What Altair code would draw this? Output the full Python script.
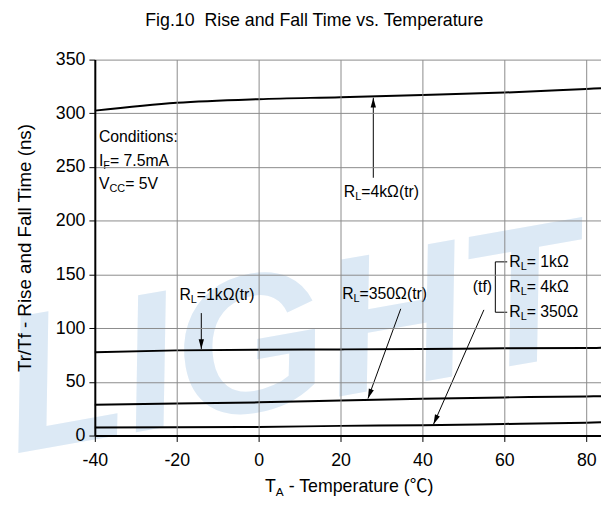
import math
import altair as alt
import pandas as pd

# ---------------- data ----------------
temps = [-40, -20, 0, 20, 40, 60, 80, 83.6]
tr_4k = [302.5, 309.8, 313.2, 315.0, 317.0, 319.3, 322.7, 323.3]
tr_1k = [77.5, 79.3, 79.9, 80.2, 80.6, 81.2, 81.5, 81.8]
tr_350 = [28.7, 29.9, 30.9, 32.7, 34.3, 35.5, 36.4, 36.6]
tf_all = [7.4, 7.7, 8.0, 9.0, 9.6, 10.8, 12.0, 12.3]
series_names = ["RL=4k tr", "RL=1k tr", "RL=350 tr", "tf"]

x_ticks = [-40, -20, 0, 20, 40, 60, 80]
y_ticks = [0, 50, 100, 150, 200, 250, 300, 350]

title_text = "Fig.10\u00a0 Rise and Fall Time vs. Temperature"
y_title = "Tr/Tf - Rise and Fall Time (ns)"

# ---------------- layout ----------------
W, H = 513, 381
XMIN, XMAX = -40, 83.6
YMIN, YMAX = 0, 350
PX_X = W / (XMAX - XMIN)
PX_Y = H / (YMAX - YMIN)
FONT = "Liberation Sans"

xs = alt.Scale(domain=[XMIN, XMAX], nice=False, zero=False)
ys = alt.Scale(domain=[YMIN, YMAX], nice=False, zero=False)

x_axis = alt.Axis(values=x_ticks, title=None, labelFontSize=18, labelFont=FONT,
                  labelColor="black", tickColor="black", tickSize=6, tickWidth=1,
                  domainColor="black", domainWidth=2, gridColor="#8a8a8a",
                  gridWidth=1, labelPadding=10, zindex=1, labelFlush=False,
                  labelExpr="'' + datum.value")
y_axis = alt.Axis(values=y_ticks, title=y_title, labelFontSize=18, labelFont=FONT,
                  labelColor="black", tickColor="black", tickSize=6, tickWidth=1,
                  domainColor="black", domainWidth=2, gridColor="#8a8a8a",
                  gridWidth=1, labelPadding=4, titleFontSize=19, titleFont=FONT,
                  titleFontWeight="normal", titleColor="black", titlePadding=21,
                  zindex=1)


def X(f):
    return alt.X(f, type="quantitative", scale=xs, axis=x_axis)


def Y(f):
    return alt.Y(f, type="quantitative", scale=ys, axis=y_axis)


# Arial / Liberation Sans advance widths (per 1000 em)
CW = {" ": 278, "\u00a0": 278, "(": 333, ")": 333, "-": 333, ".": 278, ":": 278,
      "=": 584, "A": 667, "C": 722, "F": 611, "I": 278, "L": 556, "R": 722,
      "T": 611, "V": 667, "a": 556, "c": 500, "d": 556, "e": 556, "f": 278,
      "g": 556, "i": 222, "k": 500, "l": 222, "m": 833, "n": 556, "o": 556,
      "p": 556, "r": 333, "s": 500, "t": 278, "u": 556, "v": 500,
      "\u03a9": 768, "\u2103": 1000}


def tw(text, size):
    return sum(CW.get(c, 556) for c in text) * size / 1000.0


def label(parts, x, y, size=16, sub=11, anchor="left", font=FONT):
    total = sum(tw(t, sub if s else size) for t, s in parts)
    off = {"left": 0, "center": -total / 2, "right": -total}[anchor]
    out = []
    for t, s in parts:
        fs = sub if s else size
        lead = len(t) - len(t.lstrip(" "))
        shown = t.strip(" ")
        if shown:
            out.append(
                alt.Chart(pd.DataFrame({"x": [x], "y": [y], "label": [shown]}))
                .mark_text(align="left", baseline="middle", dx=off + tw(" " * lead, fs),
                           dy=(5 if s else 0), fontSize=fs, font=font, color="black")
                .encode(x=X("x"), y=Y("y"), text="label:N")
            )
        off += tw(t, fs)
    return out


# ---------------- watermark ----------------
wm = alt.Chart(pd.DataFrame({"x": [8.5], "y": [84.0]})).mark_text(
    text="LIGHT", font=FONT, fontSize=198, fontWeight="bold", fontStyle="italic",
    color="#dce9f5", angle=350, align="center", baseline="middle"
).encode(x=X("x"), y=Y("y"))

# ---------------- curves ----------------
rows = []
for name, vals in zip(series_names, [tr_4k, tr_1k, tr_350, tf_all]):
    for t, v in zip(temps, vals):
        rows.append({"t": t, "v": v, "s": name})
curves = alt.Chart(pd.DataFrame(rows)).mark_line(
    color="black", strokeWidth=2, interpolate="monotone"
).encode(x=X("t"), y=Y("v"), detail="s:N")

# ---------------- arrows ----------------
arr_x1 = [28.0, -14.0, 34.7, 55.0]
arr_y1 = [240.0, 114.0, 118.0, 117.0]
arr_x2 = [28.0, -14.0, 26.7, 42.7]
arr_y2 = [314.5, 80.5, 34.5, 10.5]
ang = []
for a, b, c, d in zip(arr_x1, arr_y1, arr_x2, arr_y2):
    dxp = (c - a) * PX_X
    dyp = -(d - b) * PX_Y
    ang.append(math.degrees(math.atan2(dxp, -dyp)) % 360)
arr = pd.DataFrame({"x1": arr_x1, "y1": arr_y1, "x2": arr_x2, "y2": arr_y2, "ang": ang})
shafts = alt.Chart(arr).mark_rule(color="black", strokeWidth=1).encode(
    x=X("x1"), y=Y("y1"), x2="x2", y2="y2")
heads = alt.Chart(arr).mark_point(
    shape="M0,0L-0.6,2.2L0.6,2.2Z", filled=True, color="black", opacity=1, size=81
).encode(x=X("x2"), y=Y("y2"), angle=alt.Angle("ang:Q", scale=None))

# bracket for tf
br = pd.DataFrame({"x1": [57.8, 57.8, 57.8], "y1": [161.7, 161.7, 114.8],
                   "x2": [57.8, 60.7, 60.7], "y2": [114.8, 161.7, 114.8]})
bracket = alt.Chart(br).mark_rule(color="black", strokeWidth=1).encode(
    x=X("x1"), y=Y("y1"), x2="x2", y2="y2")

# ---------------- annotations ----------------
texts = []
texts += label([(title_text, False)], 14.0, 385.5, size=18, anchor="center")
texts += label([("Conditions:", False)], -39.0, 278.3)
texts += label([("I", False), ("F", True), ("= 7.5mA", False)], -39.0, 255.4)
texts += label([("V", False), ("CC", True), ("= 5V", False)], -39.0, 234.2)
texts += label([("R", False), ("L", True), ("=4k\u03a9(tr)", False)], 20.8, 226.3)
texts += label([("R", False), ("L", True), ("=1k\u03a9(tr)", False)], -19.35, 130.4)
texts += label([("R", False), ("L", True), ("=350\u03a9(tr)", False)], 20.4, 131.4)
texts += label([("(tf)", False)], 57.0, 137.8, anchor="right")
texts += label([("R", False), ("L", True), ("= 1k\u03a9", False)], 61.2, 161.7)
texts += label([("R", False), ("L", True), ("= 4k\u03a9", False)], 61.2, 138.3)
texts += label([("R", False), ("L", True), ("= 350\u03a9", False)], 61.2, 114.8)
# x-axis title with subscript
texts += label([("T", False), ("A", True), (" - Temperature (\u2103)", False)],
               22.4, -47.8, size=18, sub=12, anchor="center",
               font="Liberation Sans, 'Noto Sans CJK SC'")

chart = alt.layer(wm, curves, shafts, heads, bracket, *texts).properties(
    width=W, height=H,
    autosize=alt.AutoSizeParams(type="none"),
    padding={"left": 88, "top": 49, "right": 0, "bottom": 61},
    background="white",
).configure_view(stroke=None)

chart.save("out.html", embed_options={"renderer": "svg", "actions": False})
